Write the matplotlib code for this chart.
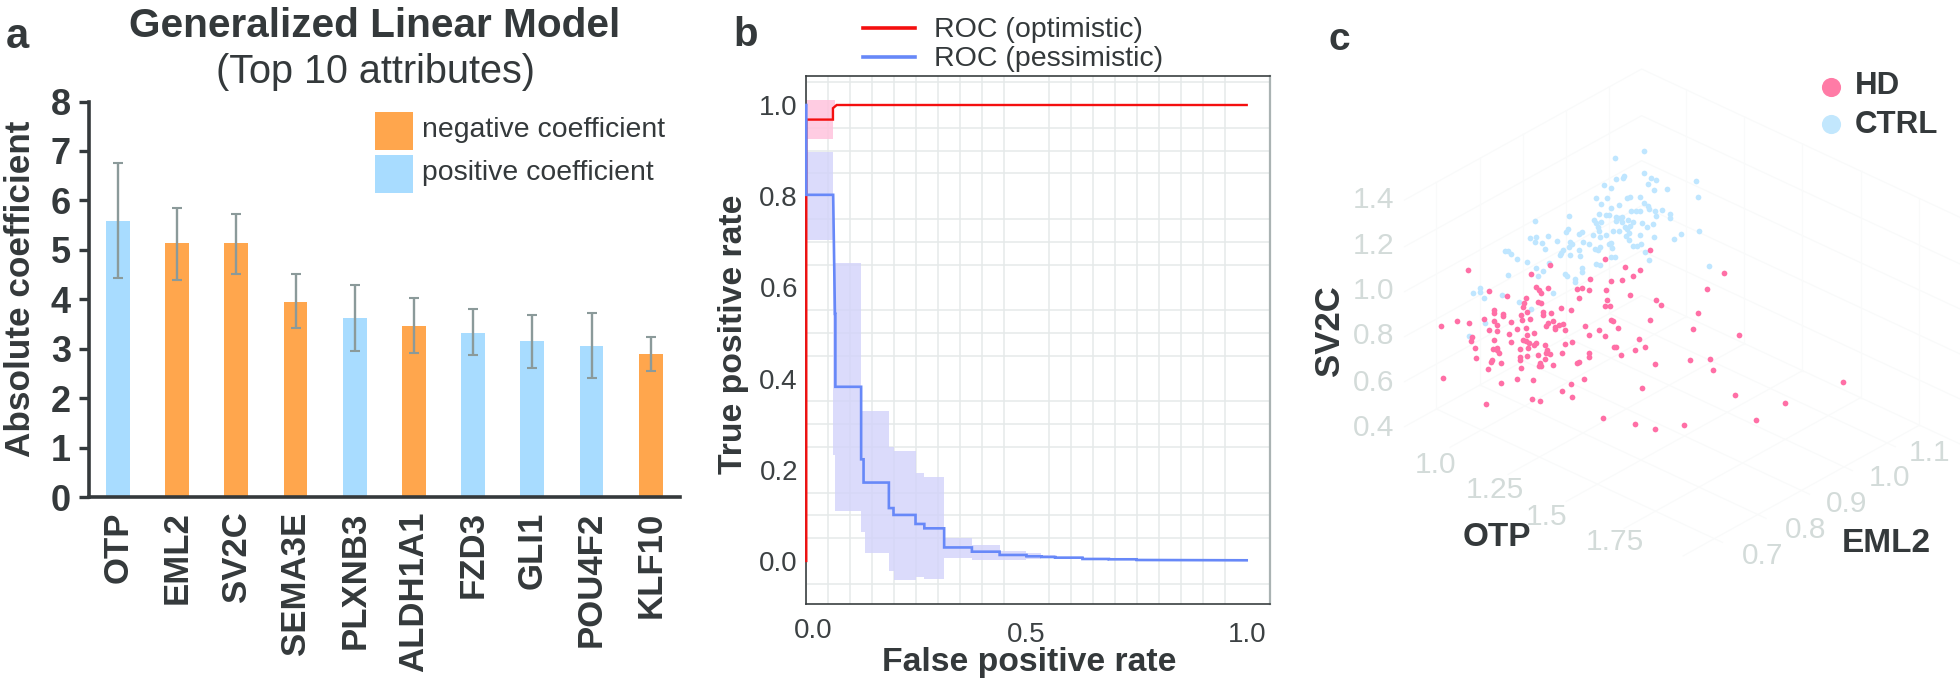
import numpy as np
import matplotlib
matplotlib.use("Agg")
import matplotlib.pyplot as plt
from matplotlib.patches import Rectangle

plt.rcParams['font.family'] = ['Liberation Sans', 'DejaVu Sans']
W, H = 1960, 686
DARK = '#34393b'

# ---- panel a data
genes = ['OTP', 'EML2', 'SV2C', 'SEMA3E', 'PLXNB3', 'ALDH1A1', 'FZD3', 'GLI1', 'POU4F2', 'KLF10']
coef = [5.59, 5.15, 5.15, 3.95, 3.62, 3.47, 3.32, 3.17, 3.05, 2.90]
err_hi = [6.76, 5.84, 5.73, 4.52, 4.29, 4.02, 3.80, 3.69, 3.72, 3.25]
err_lo = [4.44, 4.39, 4.51, 3.42, 2.96, 2.91, 2.87, 2.61, 2.42, 2.56]
sign = ['pos', 'neg', 'neg', 'neg', 'pos', 'neg', 'pos', 'pos', 'pos', 'neg']
ORANGE, SKY = '#ffa64d', '#a8dcff'

# ---- panel b data
opt_x = [0, 0, 0.0605, 0.0605, 0.069, 1.0]
opt_y = [0, 0.968, 0.968, 0.993, 1.0, 1.0]
opt_edges = [0, 0.0605, 0.066]
opt_up = [1.011, 1.011]
opt_lo = [0.925, 0.995]

pes_x = [0, 0, 0.061, 0.065, 0.066, 0.066, 0.1245, 0.1245, 0.13, 0.13, 0.134, 0.134, 0.1875, 0.1875, 0.198, 0.198,
         0.248, 0.248, 0.268, 0.268, 0.313, 0.313, 0.376, 0.376, 0.439, 0.439, 0.50, 0.50, 0.534, 0.534, 0.565,
         0.565, 0.627, 0.627, 0.687, 0.687, 0.75, 0.75, 1.0]
pes_y = [1.0, 0.803, 0.803, 0.542, 0.542, 0.382, 0.382, 0.223, 0.223, 0.172, 0.172, 0.172, 0.172, 0.116, 0.116, 0.101,
         0.101, 0.0812, 0.0812, 0.0716, 0.0716, 0.0297, 0.0297, 0.0204, 0.0204, 0.0132, 0.0132, 0.0102, 0.0102, 0.0088, 0.0088,
         0.0073, 0.0073, 0.0044, 0.0044, 0.0037, 0.0037, 0.0022, 0.0015]
pes_edges = [0, 0.061, 0.066, 0.1245, 0.134, 0.1875, 0.199, 0.25, 0.268, 0.313, 0.376, 0.439, 0.50, 0.534, 0.565, 0.627, 0.81]
pes_up = [0.898, 0.653, 0.653, 0.329, 0.329, 0.251, 0.241, 0.194, 0.185, 0.0512, 0.035, 0.0226, 0.018, 0.0132, 0.0095, 0.005]
pes_lo = [0.705, 0.232, 0.110, 0.064, 0.018, -0.022, -0.042, -0.035, -0.040, 0.0073, 0.0022, 0.0022, 0.004, 0.006, 0.005, 0.0022]

# ---- panel c data: projected positions of the 3D scatter
ctrl_pts = [(806,394),(736,413),(806,459),(822,473),(834,481),(758,468),(754,473),(739,478),(710,495),(725,504),(815,492),(831,509),(860,507),(932,482),(936,530),(689,535),(716,534),(702,551),(727,563),(745,556),(765,534),(773,532),(797,531),(805,550),(815,558),(818,566),(796,572),(786,573),(775,574),(849,569),(833,574),(868,582),(868,594),(834,589),(696,582),(713,586),(722,586),(624,589),(543,604),(685,600),(690,610),(703,607),(737,590),(745,594),(752,590),(738,603),(752,606),(768,600),(778,605),(772,618),(760,622),(765,628),(801,608),(812,622),(827,613),(938,632),(895,641),(878,656),(830,650),(797,645),(770,640),(762,647),(770,660),(695,622),(696,632),(700,650),(715,645),(683,645),(730,632),(745,634),(622,628),(618,635),(650,643),(655,637),(574,648),(545,650),(530,654),(542,665),(560,670),(597,662),(628,665),(632,672),(624,680),(658,667),(672,672),(648,690),(725,668),(722,673),(700,680),(688,688),(694,690),(728,685),(780,678),(788,677),(798,673),(610,690),(605,698),(603,704),(627,705),(652,707),(566,688),(470,692),(478,692),(485,703),(500,718),(523,727),(576,730),(726,710),(735,712),(808,695),(818,719),(689,733),(700,735),(962,738),(544,745),(563,753),(550,767),(477,765),(656,745),(657,757),(614,762),(620,768),(640,777),(639,785),(411,805),(410,815),(394,819),(420,835),(463,825),(586,818),(505,846),(533,868),(423,910),(383,947)]
hd_pts = [(820,689),(711,718),(580,734),(381,749),(759,740),(795,749),(533,762),(998,760),(779,768),(727,782),(752,781),(675,778),(546,801),(573,803),(643,806),(656,803),(673,810),(714,810),(957,806),(432,814),(552,810),(558,818),(475,828),(520,833),(648,835),(772,825),(835,840),(716,841),(550,845),(558,849),(517,850),(514,860),(847,856),(711,859),(724,859),(605,865),(630,869),(444,869),(445,878),(465,883),(466,889),(523,875),(510,884),(562,877),(562,885),(582,880),(935,878),(419,897),(444,903),(485,906),(511,900),(530,898),(354,903),(384,908),(725,899),(730,904),(819,901),(575,910),(570,918),(586,903),(611,912),(600,916),(590,922),(592,927),(616,930),(664,918),(743,923),(925,927),(317,917),(450,916),(431,930),(451,932),(499,927),(521,925),(697,931),(541,940),(524,945),(479,943),(673,945),(712,948),(1034,946),(390,952),(388,962),(443,959),(513,960),(520,963),(528,970),(486,965),(546,970),(540,975),(568,975),(615,973),(632,967),(794,958),(733,980),(737,980),(808,981),(398,983),(441,986),(450,985),(451,990),(455,998),(506,988),(527,985),(572,990),(570,1000),(578,1003),(608,1000),(783,990),(673,1000),(673,1010),(750,1004),(550,1005),(506,1012),(506,1020),(524,1007),(400,1013),(438,1020),(437,1026),(460,1030),(568,1016),(650,1025),(645,1030),(917,1020),(966,1017),(833,1031),(586,1035),(552,1037),(557,1037),(556,1030),(510,1043),(429,1047),(971,1049),(321,1075),(499,1078),(538,1079),(661,1076),(461,1089),(630,1092),(801,1104),(607,1112),(1285,1085),(1025,1125),(633,1132),(535,1137),(556,1144),(1145,1148),(424,1152),(707,1195),(1076,1200),(785,1212),(902,1215),(833,1227)]
sv2c_ticks = ['1.4', '1.2', '1.0', '0.8', '0.6', '0.4']
otp_ticks = ['1.0', '1.25', '1.5', '1.75']
eml2_ticks = ['0.7', '0.8', '0.9', '1.0', '1.1']


def px_axes(l, t, r, b):
    return fig.add_axes([l / W, 1 - b / H, (r - l) / W, (b - t) / H])


def fig_text(x, y, s, **kw):
    kw.setdefault('ha', 'center')
    kw.setdefault('va', 'center')
    kw.setdefault('color', DARK)
    fig.text(x / W, 1 - y / H, s, **kw)


fig = plt.figure(figsize=(W / 100, H / 100), dpi=100)

# ================= panel a
ax = px_axes(89, 101.5, 679.5, 497.4)
pos = np.arange(len(genes))
colors = [ORANGE if s == 'neg' else SKY for s in sign]
ax.bar(pos, coef, width=0.40, color=colors, zorder=2)
coef_a, hi, lo = map(np.array, (coef, err_hi, err_lo))
ax.errorbar(pos, coef_a, yerr=[coef_a - lo, hi - coef_a], fmt='none', ecolor='#8b9a9a',
            elinewidth=1.7, capsize=3.6, capthick=1.5, zorder=3)
ax.set_xlim(-0.488, 9.486)
ax.set_ylim(0, 8)
for s in ('top', 'right'):
    ax.spines[s].set_visible(False)
for s in ('left', 'bottom'):
    ax.spines[s].set_linewidth(2.6)
    ax.spines[s].set_color(DARK)
ax.set_yticks(range(9))
ax.tick_params(axis='y', length=7, width=2.4, color=DARK, labelsize=26, labelcolor=DARK, pad=6)
for t in ax.get_yticklabels():
    t.set_fontweight('bold')
ax.set_xticks(pos)
ax.set_xticklabels(genes, rotation=90, fontsize=25, fontweight='bold', color=DARK)
ax.tick_params(axis='x', length=0, pad=10)
fig_text(375, 26, 'Generalized Linear Model', fontsize=29.2, fontweight='bold')
fig_text(375, 72, '(Top 10 attributes)', fontsize=28.5)
fig_text(21, 289, 'Absolute coefficient', fontsize=25.3, fontweight='bold', rotation=90)
fig_text(17, 37, 'a', fontsize=30, fontweight='bold')
for y0, c, lab in ((112, ORANGE, 'negative coefficient'), (155, SKY, 'positive coefficient')):
    fig.add_artist(Rectangle((375 / W, 1 - (y0 + 38) / H), 38 / W, 38 / H, transform=fig.transFigure, color=c, lw=0))
    fig_text(422, y0 + 18, lab, fontsize=20.4, ha='left')

# ================= panel b
ax = px_axes(806.3, 76, 1269.6, 604.3)
ax.set_xlim(0, 1.052)
ax.set_ylim(-0.095, 1.0636)
ax.set_xticks(np.arange(0, 1.05, 0.05), minor=True)
ax.set_yticks(np.arange(-0.05, 1.06, 0.05), minor=True)
ax.grid(which='minor', color='#e5eaea', lw=1.1, zorder=0)
ax.set_axisbelow(True)
ax.fill_between(opt_edges, opt_up + [opt_up[-1]], opt_lo + [opt_lo[-1]], step='post', color='#ffc4dd', alpha=0.85, lw=0, zorder=1)
ax.fill_between(pes_edges, pes_up + [pes_up[-1]], pes_lo + [pes_lo[-1]], step='post', color='#d3d3fa', alpha=0.8, lw=0, zorder=1)
ax.plot(opt_x, opt_y, color='#f40f0f', lw=1.7, zorder=3, clip_on=False, solid_joinstyle='miter')
ax.plot(pes_x, pes_y, color='#6788f8', lw=1.9, zorder=4, clip_on=False, solid_joinstyle='miter')
ax.set_xticks([0.5, 1.0])
ax.set_xticklabels(['0.5', '1.0'])
ax.set_yticks([0, 0.2, 0.4, 0.6, 0.8, 1.0])
ax.tick_params(which='both', length=0)
ax.tick_params(axis='x', labelsize=20, labelcolor='#3c4143', pad=13)
ax.tick_params(axis='y', labelsize=20, labelcolor='#3c4143', pad=6)
for s in ('left', 'bottom', 'top'):
    ax.spines[s].set_linewidth(1.2)
    ax.spines[s].set_color('#3a3f41')
ax.spines['right'].set_linewidth(1.6)
ax.spines['right'].set_color('#aab3b3')
fig_text(813, 631, '0.0', fontsize=20, color='#3c4143')
fig_text(1029, 662, 'False positive rate', fontsize=24.3, fontweight='bold')
fig_text(733, 334, 'True positive rate', fontsize=24.3, fontweight='bold', rotation=90)
fig_text(746, 35, 'b', fontsize=29, fontweight='bold')
for y0, c, lab in ((28, '#f40f0f', 'ROC (optimistic)'), (57, '#6788f8', 'ROC (pessimistic)')):
    fig.add_artist(plt.Line2D([863 / W, 915 / W], [1 - y0 / H] * 2, color=c, lw=2.6, transform=fig.transFigure))
    fig_text(934, y0 + 2, lab, fontsize=20.5, ha='left')

# ================= panel c
ax = px_axes(1310, 20, 1960, 686)
ax.set_xlim(0, 1568)
ax.set_ylim(1998, 0)
ax.axis('off')
GRID3D = '#f9fafa'
left_y = [540, 680, 815, 950, 1085, 1220]
for yl in left_y:
    ax.plot([228, 800, 1568], [yl, yl - 393, yl - 393 + 445], color=GRID3D, lw=0.9, zorder=0)
for xv in (305, 410, 515, 618, 722):
    dy = (xv - 228) * 0.688
    ax.plot([xv, xv], [540 - dy, 1220 - dy], color=GRID3D, lw=0.9, zorder=0)
    ax.plot([xv, xv + 690], [1220 - dy, 1220 - dy + 690 * 0.58], color=GRID3D, lw=0.9, zorder=0)
for xv in (908, 1048, 1188, 1328, 1470):
    dy = (xv - 800) * 0.58
    ax.plot([xv, xv], [147 + dy, 827 + dy], color=GRID3D, lw=0.9, zorder=0)
    ax.plot([xv, xv - 570], [827 + dy, 827 + dy + 570 * 0.688], color=GRID3D, lw=0.9, zorder=0)
cx, cy = zip(*ctrl_pts)
hx, hy = zip(*hd_pts)
ax.scatter(cx, cy, s=17, color='#bfe6ff', lw=0, zorder=2)
ax.scatter(hx, hy, s=17, color='#ff6fa6', lw=0, zorder=3)
TICKC = '#d3dbd9'
for lab, y in zip(sv2c_ticks, [540, 678, 812, 948, 1088, 1225]):
    ax.text(203, y, lab, fontsize=21.5, color=TICKC, ha='right', va='center')
for lab, x, y in zip(otp_ticks, [302, 445, 570, 735], [1335, 1410, 1490, 1567]):
    ax.text(x, y, lab, fontsize=21.5, color=TICKC, ha='center', va='center')
for lab, x, y in zip(eml2_ticks, [1092, 1195, 1295, 1397, 1495], [1607, 1530, 1452, 1375, 1300]):
    ax.text(x, y, lab, fontsize=21.5, color=TICKC, ha='center', va='center')
ax.text(452, 1553, 'OTP', fontsize=24, fontweight='bold', color=DARK, ha='center', va='center')
ax.text(1390, 1570, 'EML2', fontsize=24, fontweight='bold', color=DARK, ha='center', va='center')
ax.text(47, 932, 'SV2C', fontsize=25, fontweight='bold', color=DARK, ha='center', va='center', rotation=90)
ax.scatter([1257], [200], s=190, color='#ff7ba6', lw=0)
ax.scatter([1257], [313], s=190, color='#c2e7fd', lw=0)
ax.text(1315, 198, 'HD', fontsize=22.5, fontweight='bold', color=DARK, ha='left', va='center')
ax.text(1315, 316, 'CTRL', fontsize=22.5, fontweight='bold', color=DARK, ha='left', va='center')
fig_text(1339, 40, 'c', fontsize=28, fontweight='bold')

fig.savefig('out.png', dpi=100)
